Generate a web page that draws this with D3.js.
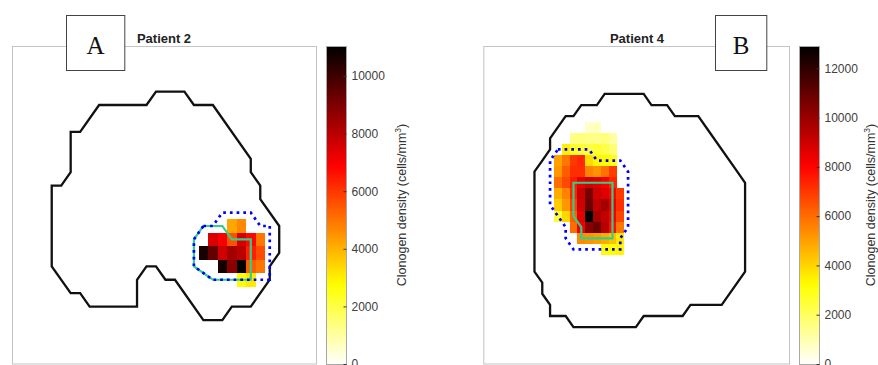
<!DOCTYPE html>
<html><head><meta charset="utf-8">
<script src="https://cdn.jsdelivr.net/npm/d3@7"></script>
<style>body{margin:0;background:#fff;} svg{display:block;}</style>
</head><body>
<svg id="chart" width="878" height="365"></svg>
<script>
// ================= DATA =================
const titles = ["Patient 2", "Patient 4"];
const panelLetters = ["A", "B"];
const colorbarMax = [11040, 12905];
const ticksA = [0, 2000, 4000, 6000, 8000, 10000];
const ticksB = [0, 2000, 4000, 6000, 8000, 10000, 12000];
const colorbarTitle = "Clonogen density (cells/mm";

// Panel A (grid units, cell centres on integers)
const brainA = [[16,4],[19,4],[20,5],[22,5],[26,9],[26,10],[27,11],[27,12],[29,14],[29,16],[28,17],[28,18],[26,20],[24,20],[23,21],[21,21],[18,18],[17,18],[16,17],[15,17],[14,18],[14,20],[9,20],[8,19],[7,19],[5,17],[5,11],[6,11],[7,10],[7,7],[8,7],[10,5],[15,5]];
const ctvA = [[21,14],[22,14],[23,13],[26,13],[27,14],[28,14],[28,18],[22,18],[20,17],[20,15]];
const gtvA = [[21,14],[23,14],[24,15],[26,15],[26,18],[22,18],[20,17],[20,15]];
const heatAFirstCol = 21, heatAFirstRow = 14;
const heatA = [
  [null, null, null, 4200, 4700, null, null],
  [null, 7500, 7000, 5600, 7600, 6800, 5000],
  [10600, 9400, 7700, 8400, 8000, 6400, 5700],
  [null, null, 10700, 8800, 11000, 5400, 5000],
  [null, null, null, null, 2800, 3100, null]
];

// Panel B
const brainB = [[17,6],[22,6],[23,7],[25,7],[26,8],[29,8],[30,9],[34,13],[35,14],[35,22],[32,25],[28,25],[27,26],[22,26],[21,27],[13,27],[12,26],[10,26],[10,25],[9,24],[9,23],[8,22],[8,13],[9,12],[10,11],[10,10],[12,8],[13,8],[14,7],[16,7]];
const ctvB = [[11,11],[15,11],[16,12],[19,12],[20,13],[20,18],[19,19],[19,20],[13,20],[12,19],[12,18],[10,16],[10,12]];
const gtvB = [[13,14],[18,14],[18,19],[14,19],[14,18],[13,17]];
const heatBFirstCol = 11, heatBFirstRow = 9;
const heatB = [
  [null, null, null, null, 700, 800, null, null, null],
  [null, null, 1500, 1700, 1600, 1500, 1700, 1200, null],
  [null, 3500, 2800, 2600, 2400, 2600, 2300, 1800, null],
  [5000, 5800, 7000, 7300, 3900, 3400, 3300, 3000, null],
  [5200, 6300, 7200, 7200, 5600, 5300, 5900, 6900, null],
  [6000, 6700, 7600, 8600, 9000, 8700, 8200, 7400, null],
  [4800, 5600, 7400, 9100, 10600, 9000, 8700, 8100, 7000],
  [4200, 5200, 6900, 9000, 10900, 9300, 9800, 8500, 7200],
  [2600, 4000, 6300, 8600, 12900, 9700, 9200, 8200, 6800],
  [null, null, 6000, 8300, 10300, 10800, 9400, 7800, 5800],
  [null, null, null, 5400, 5300, 5100, 4800, 4400, 3600],
  [null, null, null, null, null, null, 3300, 3200, 3400]
];

// ================= LAYOUT =================
const panels = [
  { title: titles[0], letter: panelLetters[0], brain: brainA, ctv: ctvA, gtv: gtvA,
    heat: heatA, col0: heatAFirstCol, row0: heatAFirstRow, max: colorbarMax[0], ticks: ticksA,
    xDom: [0.81, 32.88], yDom: [0.61, 24.23], fx: [12, 316], fy: [46, 363.5], titleX: 164,
    box: [66, 15, 58.3, 55], cbX: 326, cbW: 20, cbTitleX: 405.5 },
  { title: titles[1], letter: panelLetters[1], brain: brainB, ctv: ctvB, gtv: gtvB,
    heat: heatB, col0: heatBFirstCol, row0: heatBFirstRow, max: colorbarMax[1], ticks: ticksB,
    xDom: [1.44, 40.63], yDom: [1.68, 30.28], fx: [483.3, 789], fy: [46, 363.5], titleX: 637,
    box: [715, 15, 51.3, 55], cbX: 799, cbW: 20, cbTitleX: 874.5 }
];

// reversed MATLAB "hot" colormap: 0 -> white, 1 -> black
function hotR(t) {
  t = Math.max(0, Math.min(1, t));
  const s = 1 - t;
  const r = Math.min(1, s / 0.375);
  const g = Math.max(0, Math.min(1, (s - 0.375) / 0.375));
  const b = Math.max(0, Math.min(1, (s - 0.75) / 0.25));
  return d3.rgb(r * 255, g * 255, b * 255).formatHex();
}

const svg = d3.select("#chart");
const defs = svg.append("defs");

panels.forEach((p, i) => {
  const g = svg.append("g");
  const xs = d3.scaleLinear().domain(p.xDom).range(p.fx);
  const ys = d3.scaleLinear().domain(p.yDom).range(p.fy);
  const color = d3.scaleSequential(hotR).domain([0, p.max]);

  // frame
  g.append("rect")
    .attr("x", p.fx[0] + 0.5).attr("y", p.fy[0] + 0.5)
    .attr("width", p.fx[1] - p.fx[0]).attr("height", p.fy[1] - p.fy[0])
    .attr("fill", "#fff").attr("stroke", "#c4c4c4").attr("stroke-width", 1);

  // heat cells
  const cells = [];
  p.heat.forEach((row, r) => row.forEach((v, c) => {
    if (v != null) cells.push({ u: p.col0 + c, v: p.row0 + r, val: v });
  }));
  g.append("g").attr("shape-rendering", "crispEdges")
    .selectAll("rect").data(cells).join("rect")
    .attr("x", d => xs(d.u - 0.5)).attr("y", d => ys(d.v - 0.5))
    .attr("width", d => xs(d.u + 0.5) - xs(d.u - 0.5) + 0.3)
    .attr("height", d => ys(d.v + 0.5) - ys(d.v - 0.5) + 0.3)
    .attr("fill", d => color(d.val));

  const line = d3.line().x(d => xs(d[0])).y(d => ys(d[1])).curve(d3.curveLinearClosed);

  // brain outline
  g.append("path").attr("d", line(p.brain))
    .attr("fill", "none").attr("stroke", "#111").attr("stroke-width", 2.3)
    .attr("stroke-linejoin", "miter");
  // GTV (green)
  g.append("path").attr("d", line(p.gtv))
    .attr("fill", "none").attr("stroke", "#2fcf8c").attr("stroke-width", 2.2);
  // CTV (blue dotted)
  g.append("path").attr("d", line(p.ctv))
    .attr("fill", "none").attr("stroke", "#0000ff").attr("stroke-width", 2.7)
    .attr("stroke-dasharray", "2.7,4");

  // title
  g.append("text").attr("x", p.titleX).attr("y", 43)
    .attr("text-anchor", "middle")
    .attr("font-family", "'Liberation Sans', Arial, sans-serif")
    .attr("font-weight", "bold").attr("font-size", 13).attr("fill", "#222")
    .text(p.title);

  // letter box
  g.append("rect").attr("x", p.box[0] + 0.5).attr("y", p.box[1] + 0.5)
    .attr("width", p.box[2]).attr("height", p.box[3])
    .attr("fill", "#fff").attr("stroke", "#444").attr("stroke-width", 1);
  g.append("text").attr("x", p.box[0] + p.box[2] / 2 + 0.5).attr("y", p.box[1] + 38.5)
    .attr("text-anchor", "middle")
    .attr("font-family", "'Liberation Serif', 'Times New Roman', serif")
    .attr("font-size", 25).attr("fill", "#111")
    .text(p.letter);

  // colorbar
  const cy = d3.scaleLinear().domain([0, p.max]).range([364, 46]);
  const gid = "grad" + i;
  const grad = defs.append("linearGradient").attr("id", gid)
    .attr("x1", 0).attr("y1", 1).attr("x2", 0).attr("y2", 0);
  d3.range(0, 1.0001, 0.02).forEach(t => {
    grad.append("stop").attr("offset", t).attr("stop-color", hotR(t));
  });
  g.append("rect").attr("x", p.cbX + 0.5).attr("y", 46.5)
    .attr("width", p.cbW).attr("height", 364 - 46)
    .attr("fill", `url(#${gid})`).attr("stroke", "#a8a8a8").attr("stroke-width", 1);

  const axis = d3.axisRight(cy).tickValues(p.ticks).tickFormat(d3.format("d"))
    .tickSizeInner(-3).tickSizeOuter(0).tickPadding(5);
  const ag = g.append("g").attr("transform", `translate(${p.cbX + p.cbW + 0.5},0)`).call(axis);
  ag.select(".domain").remove();
  ag.selectAll(".tick line").attr("stroke", "#333");
  ag.selectAll(".tick text")
    .attr("font-family", "'Liberation Sans', Arial, sans-serif")
    .attr("font-size", 12).attr("fill", "#404040");

  // colorbar title
  const ct = g.append("text")
    .attr("transform", `translate(${p.cbTitleX},205) rotate(-90)`)
    .attr("text-anchor", "middle")
    .attr("font-family", "'Liberation Sans', Arial, sans-serif")
    .attr("font-size", 12.5).attr("fill", "#333");
  ct.append("tspan").text(colorbarTitle);
  ct.append("tspan").attr("font-size", 8.5).attr("dy", -5).text("3");
  ct.append("tspan").attr("dy", 5).text(")");
});
</script>
</body></html>
